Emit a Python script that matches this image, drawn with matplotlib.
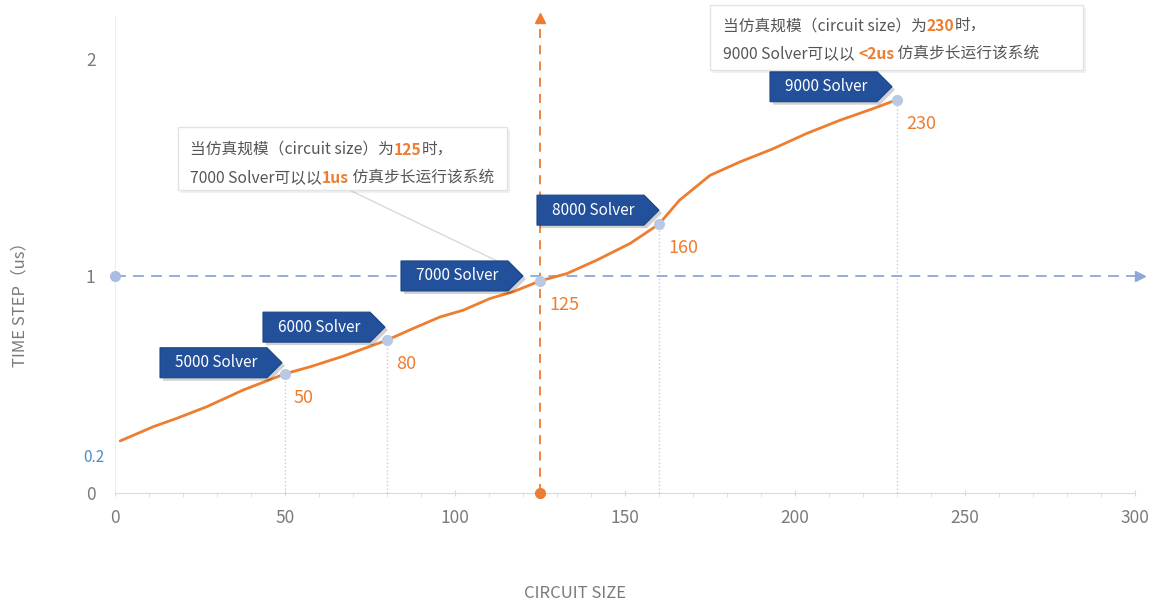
import numpy as np
import matplotlib
matplotlib.use("Agg")
import matplotlib.pyplot as plt
import matplotlib.transforms as mtransforms
from matplotlib.patches import Polygon, FancyBboxPatch
import matplotlib.patheffects as pe

plt.rcParams['font.family'] = ['Noto Sans CJK SC', 'DejaVu Sans']

# 仿真步长曲线
curve_x = [1.5, 11.3, 18.1, 27.0, 37.7, 47.6, 50, 57.4, 67.1, 80, 87.7, 95.6,
           102.4, 110.3, 117.1, 125, 132.9, 141.7, 151.5, 160, 166, 175,
           183.8, 193.6, 203.4, 213.2, 223, 230]
curve_y = [0.240, 0.306, 0.344, 0.398, 0.475, 0.535, 0.55, 0.582, 0.631, 0.705,
           0.759, 0.812, 0.843, 0.897, 0.928, 0.978, 1.012, 1.074, 1.151, 1.24,
           1.35, 1.465, 1.527, 1.588, 1.658, 1.719, 1.773, 1.814]

# 各型号 Solver
solver_sizes = [50, 80, 125, 160, 230]
solver_names = ['5000 Solver', '6000 Solver', '7000 Solver', '8000 Solver', '9000 Solver']

x_ticks = [0, 50, 100, 150, 200, 250, 300]
y_ticks = [0, 1, 2]

ORANGE = '#ed7d31'
GUIDE = '#8fa6d6'
TAG = '#22509a'
GRAY_TXT = '#7a7a7a'

fig = plt.figure(figsize=(11.59, 6.05), dpi=100)
ax = fig.add_axes([115 / 1159, 1 - 493 / 605, 1020 / 1159, 477 / 605])
ax.set_xlim(0, 300)
ax.set_ylim(0, 2.2)

for side in ['top', 'right']:
    ax.spines[side].set_visible(False)
ax.spines['bottom'].set_color('#d3dbea')
ax.spines['left'].set_color('#eceff5')

ax.set_xticks(x_ticks)
ax.set_xticks(np.arange(0, 301, 10), minor=True)
ax.set_yticks(y_ticks)
ax.tick_params(axis='x', which='major', length=5, direction='inout', color='#d3dbea',
               labelsize=12.5, labelcolor=GRAY_TXT, pad=9)
ax.tick_params(axis='x', which='minor', length=3, color='#d3dbea')
ax.tick_params(axis='y', length=0, labelsize=12.5, labelcolor=GRAY_TXT, pad=14)
ax.text(-0.01, 0.166, '0.2', color='#4a8cc8', fontsize=11, ha='right', va='center',
        transform=ax.get_yaxis_transform())

fig.text(575 / 1159, 1 - 594 / 605, 'CIRCUIT SIZE', color=GRAY_TXT, fontsize=12,
         ha='center', va='center')
fig.text(20 / 1159, 1 - 300 / 605, 'TIME STEP（us）', color=GRAY_TXT, fontsize=12,
         ha='center', va='center', rotation=90)

# 1us 参考线与 125 竖线
ax.plot([0, 301.5], [1, 1], color=GUIDE, lw=1.3, ls=(0, (6, 4)), clip_on=False, zorder=2)
ax.plot([0], [1], 'o', color='#a9bde3', ms=7, clip_on=False, zorder=3)
ax.plot([301.5], [1], '>', color=GUIDE, ms=7, clip_on=False, zorder=3)
ax.plot([125, 125], [0, 2.19], color=ORANGE, lw=1.3, ls=(0, (5, 4)), clip_on=False, zorder=2)
ax.plot([125], [0], 'o', color=ORANGE, ms=7, clip_on=False, zorder=4)
ax.plot([125], [2.19], '^', color=ORANGE, ms=7, clip_on=False, zorder=3)

ax.plot(curve_x, curve_y, color=ORANGE, lw=2, zorder=3, solid_capstyle='round')

solver_y = np.interp(solver_sizes, curve_x, curve_y)

for sx, sy in zip(solver_sizes, solver_y):
    if sx != 125:
        ax.plot([sx, sx], [0, sy], color='#c2cde3', lw=1, ls=':', zorder=1)
ax.plot(solver_sizes, solver_y, 'o', color='#b9c8e4', ms=7, zorder=5)

for sx, sy in zip(solver_sizes, solver_y):
    ax.annotate(str(sx), xy=(sx, sy), xytext=(9, -24), textcoords='offset pixels',
                color=ORANGE, fontsize=13, ha='left', va='center')

# 标签形状（像素坐标，尖端在原点）
tag_w, tag_h, tip_len = 122, 30, 15
tag_shape = np.array([[0, 0], [-tip_len, tag_h / 2], [-tag_w, tag_h / 2],
                      [-tag_w, -tag_h / 2], [-tip_len, -tag_h / 2]]) / 100.0
tip_offsets = [(-3, 11), (-2, 13), (-17, 5), (0, 14), (-5, 13)]

# 7000 Solver 说明框引线
ax.plot([69.1, 116.8], [1.396, 1.037], color='#d9d9d9', lw=1, zorder=4)

for (sx, sy), name, (dx, dy) in zip(zip(solver_sizes, solver_y), solver_names, tip_offsets):
    trans = fig.dpi_scale_trans + mtransforms.ScaledTranslation(sx, sy, ax.transData)
    verts = tag_shape + np.array([dx, dy]) / 100.0
    shadow = Polygon(verts + np.array([3, -3]) / 100.0, closed=True, transform=trans,
                     facecolor='#000000', alpha=0.18, lw=0, zorder=5, clip_on=False)
    body = Polygon(verts, closed=True, transform=trans, facecolor=TAG,
                   edgecolor='#1b4485', lw=0.8, zorder=6, clip_on=False)
    ax.add_patch(shadow)
    ax.add_patch(body)
    ax.text((dx - 66) / 100.0, dy / 100.0, name, transform=trans, color='white',
            fontsize=11, ha='center', va='center', zorder=7)


def rich_line(x, y, parts, size=11.3):
    prev = None
    for s, color, weight in parts:
        if prev is None:
            prev = ax.text(x, y, s, color=color, fontweight=weight, fontsize=size,
                           ha='left', va='center', zorder=9, clip_on=False)
        else:
            prev = ax.annotate(s, xy=(1, 0), xycoords=prev, va='bottom', ha='left',
                               color=color, fontweight=weight, fontsize=size,
                               zorder=9, annotation_clip=False)


def callout(x0, y0, x1, y1, lines):
    box = FancyBboxPatch((x0, y0), x1 - x0, y1 - y0, boxstyle='square,pad=0',
                         facecolor='white', edgecolor='#e3e3e3', lw=1, zorder=8,
                         clip_on=False,
                         path_effects=[pe.withSimplePatchShadow(offset=(2, -2),
                                                                shadow_rgbFace='#000000',
                                                                alpha=0.06)])
    ax.add_patch(box)
    for (tx, ty), parts in lines:
        rich_line(tx, ty, parts)


TXT = '#555555'
callout(18.5, 1.396, 115.3, 1.687, [
    ((22, 1.585), [('当仿真规模（circuit size）为', TXT, 'normal'),
                   ('125', ORANGE, 'bold'), ('时，', TXT, 'normal')]),
    ((22, 1.455), [('7000 Solver可以以', TXT, 'normal'), ('1us', ORANGE, 'bold'),
                   (' 仿真步长运行该系统', TXT, 'normal')]),
])
callout(175, 1.949, 284.7, 2.249, [
    ((178.8, 2.156), [('当仿真规模（circuit size）为', TXT, 'normal'),
                      ('230', ORANGE, 'bold'), ('时，', TXT, 'normal')]),
    ((178.8, 2.027), [('9000 Solver可以以 ', TXT, 'normal'), ('<2us', ORANGE, 'bold'),
                      (' 仿真步长运行该系统', TXT, 'normal')]),
])

fig.savefig('out.png', dpi=100)
